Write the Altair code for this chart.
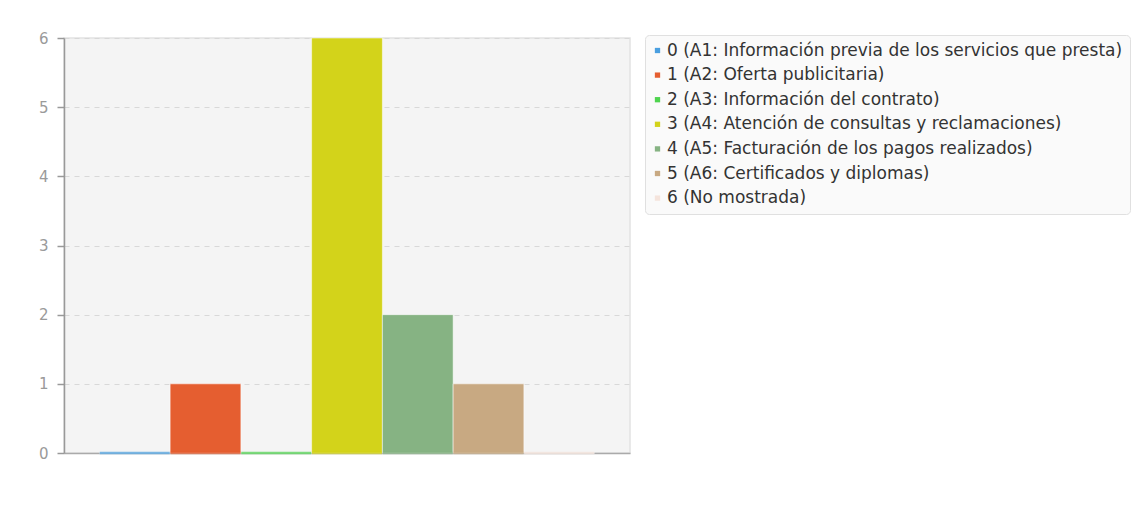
import altair as alt
import pandas as pd

categories = [
    "0 (A1: Información previa de los servicios que presta)",
    "1 (A2: Oferta publicitaria)",
    "2 (A3: Información del contrato)",
    "3 (A4: Atención de consultas y reclamaciones)",
    "4 (A5: Facturación de los pagos realizados)",
    "5 (A6: Certificados y diplomas)",
    "6 (No mostrada)",
]
values = [0, 1, 0, 6, 2, 1, 0]
colors = ["#4a9fe0", "#e55e30", "#4fd44f", "#d3d31a", "#86b383", "#c8a982", "#f5e4dc"]

df = pd.DataFrame({"cat": categories, "value": values})

x_enc = alt.X("cat:N", sort=categories,
              scale=alt.Scale(paddingInner=0, paddingOuter=0.5),
              axis=alt.Axis(labels=False, ticks=False, title=None, domainColor="#aaaaaa",
                            domainWidth=1.5, grid=False))
color_enc = alt.Color("cat:N", sort=categories,
                      scale=alt.Scale(domain=categories, range=colors),
                      legend=alt.Legend(title=None, orient="none", legendX=581, legendY=-3,
                                        symbolType="square", symbolSize=28, symbolStrokeWidth=0,
                                        labelFontSize=17, labelColor="#333333", labelLimit=800,
                                        labelFont="DejaVu Sans", rowPadding=6.6,
                                        fillColor="#fafafa", strokeColor="#e0e0e0",
                                        cornerRadius=4, padding=7, labelOffset=1,
                                        symbolOffset=-3))

bars = alt.Chart(df).mark_bar(stroke="white", strokeOpacity=0.5, strokeWidth=1).encode(
    x=x_enc,
    y=alt.Y("value:Q", scale=alt.Scale(domain=[0, 6]),
            axis=alt.Axis(values=[0, 1, 2, 3, 4, 5, 6], format="d", title=None, grid=True,
                          gridDash=[5, 5], gridColor="#d8d8d8", domainColor="#999999",
                          domainWidth=1.5, tickColor="#999999", tickSize=7, tickWidth=1.5,
                          labelColor="#9a9a9a", labelFontSize=15, labelPadding=9,
                          labelFont="DejaVu Sans")),
    color=color_enc,
)

base_lines = alt.Chart(df).mark_tick(size=70, thickness=2.5).encode(
    x=alt.X("cat:N", sort=categories),
    y=alt.datum(0),
    color=alt.Color("cat:N", sort=categories, legend=None),
)

chart = alt.layer(bars, base_lines).properties(
    width=566, height=415,
    autosize=alt.AutoSizeParams(type="none"),
    padding={"left": 56, "top": 30, "right": 504, "bottom": 50},
    view=alt.ViewBackground(fill="#f4f4f4", stroke="#e2e2e2", strokeWidth=1.5),
).configure(
    font="DejaVu Sans", background="white"
)

chart.save("out.html", embed_options={"renderer": "svg", "actions": False})
